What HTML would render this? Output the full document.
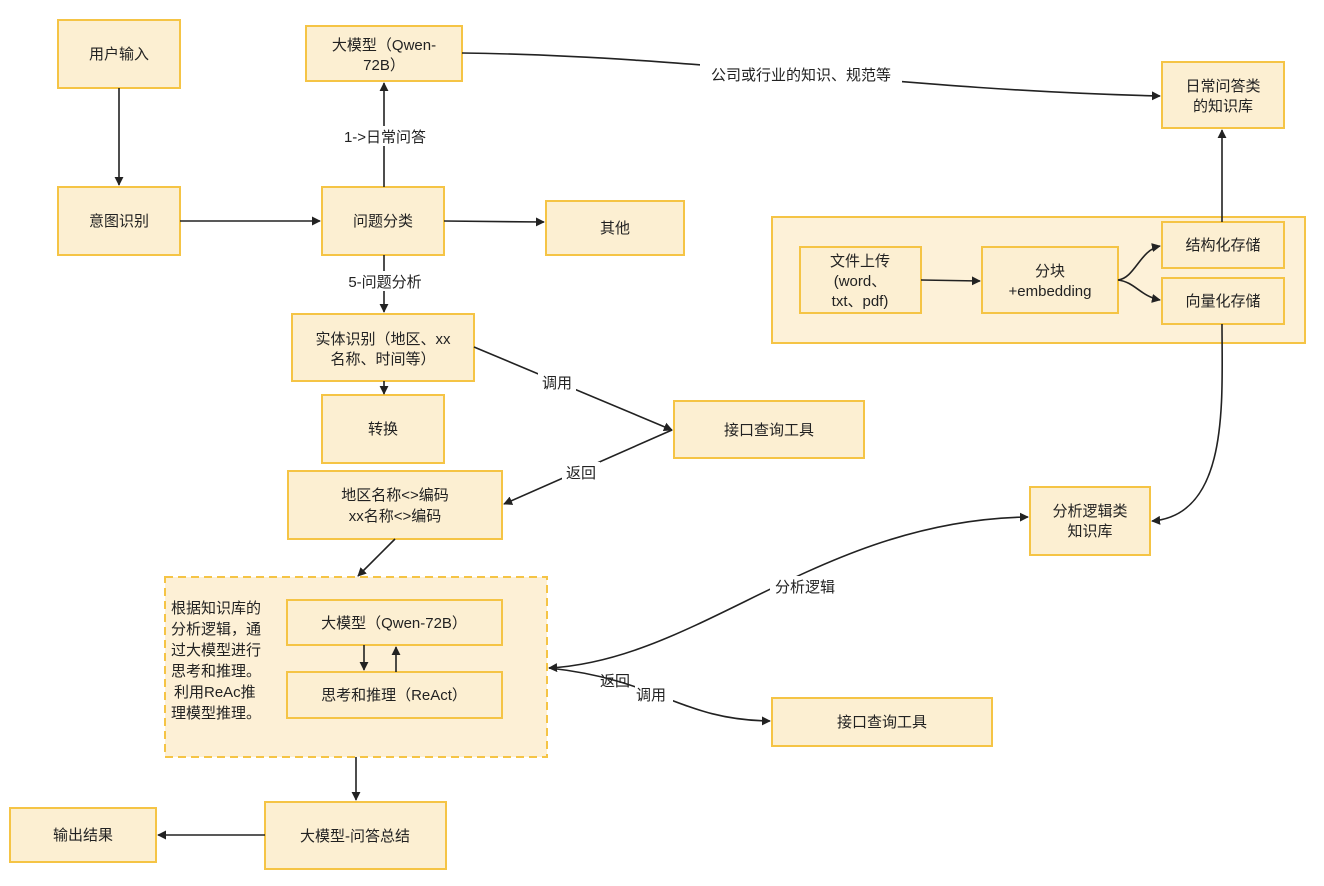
<!DOCTYPE html>
<html><head><meta charset="utf-8"><style>
html,body{margin:0;padding:0;background:#fff}
svg text{font-family:"Liberation Sans","Noto Sans CJK SC",sans-serif;font-size:15px;fill:#222}
.b{fill:#fcefd2;stroke:#f5c445;stroke-width:2}
.l{fill:none;stroke:#222;stroke-width:1.6}
.lbl{fill:#fff;stroke:none}
</style></head><body>
<svg width="1324" height="881" viewBox="0 0 1324 881" xmlns="http://www.w3.org/2000/svg">
<defs><marker id="a" viewBox="0 0 10 10" refX="9" refY="5" markerWidth="9" markerHeight="9" orient="auto-start-reverse" markerUnits="userSpaceOnUse"><path d="M0,0 L10,5 L0,10 z" fill="#222"/></marker></defs>

<!-- containers -->
<rect class="b" x="772" y="217" width="533" height="126" style="fill:#fdf1d8"/>
<rect x="165" y="577" width="382" height="180" style="fill:#fdf0d6;stroke:#f5c445;stroke-width:2;stroke-dasharray:8 5"/>

<!-- boxes -->
<rect class="b" x="58" y="20" width="122" height="68"/>
<text x="119" y="59" text-anchor="middle">用户输入</text>
<rect class="b" x="58" y="187" width="122" height="68"/>
<text x="119" y="226" text-anchor="middle">意图识别</text>
<rect class="b" x="306" y="26" width="156" height="55"/>
<text x="384" y="50" text-anchor="middle">大模型（Qwen-</text>
<text x="384" y="70" text-anchor="middle">72B）</text>
<rect class="b" x="322" y="187" width="122" height="68"/>
<text x="383" y="226" text-anchor="middle">问题分类</text>
<rect class="b" x="546" y="201" width="138" height="54"/>
<text x="615" y="233" text-anchor="middle">其他</text>
<rect class="b" x="292" y="314" width="182" height="67"/>
<text x="383" y="344" text-anchor="middle">实体识别（地区、xx</text>
<text x="383" y="364" text-anchor="middle">名称、时间等）</text>
<rect class="b" x="322" y="395" width="122" height="68"/>
<text x="383" y="434" text-anchor="middle">转换</text>
<rect class="b" x="674" y="401" width="190" height="57"/>
<text x="769" y="435" text-anchor="middle">接口查询工具</text>
<rect class="b" x="288" y="471" width="214" height="68"/>
<text x="395" y="500" text-anchor="middle">地区名称&lt;&gt;编码</text>
<text x="395" y="521" text-anchor="middle">xx名称&lt;&gt;编码</text>
<rect class="b" x="287" y="600" width="215" height="45"/>
<text x="394" y="628" text-anchor="middle">大模型（Qwen-72B）</text>
<rect class="b" x="287" y="672" width="215" height="46"/>
<text x="394" y="700" text-anchor="middle">思考和推理（ReAct）</text>
<text x="171" y="613">根据知识库的</text>
<text x="171" y="634">分析逻辑，通</text>
<text x="171" y="655">过大模型进行</text>
<text x="171" y="676">思考和推理。</text>
<text x="174" y="697">利用ReAc推</text>
<text x="171" y="718">理模型推理。</text>
<rect class="b" x="265" y="802" width="181" height="67"/>
<text x="355" y="841" text-anchor="middle">大模型-问答总结</text>
<rect class="b" x="10" y="808" width="146" height="54"/>
<text x="83" y="840" text-anchor="middle">输出结果</text>
<rect class="b" x="772" y="698" width="220" height="48"/>
<text x="882" y="727" text-anchor="middle">接口查询工具</text>
<rect class="b" x="1030" y="487" width="120" height="68"/>
<text x="1090" y="516" text-anchor="middle">分析逻辑类</text>
<text x="1090" y="536" text-anchor="middle">知识库</text>
<rect class="b" x="1162" y="62" width="122" height="66"/>
<text x="1223" y="91" text-anchor="middle">日常问答类</text>
<text x="1223" y="111" text-anchor="middle">的知识库</text>
<rect class="b" x="800" y="247" width="121" height="66"/>
<text x="860" y="266" text-anchor="middle">文件上传</text>
<text x="860" y="286" text-anchor="middle">(word、</text>
<text x="860" y="306" text-anchor="middle">txt、pdf)</text>
<rect class="b" x="982" y="247" width="136" height="66"/>
<text x="1050" y="276" text-anchor="middle">分块</text>
<text x="1050" y="296" text-anchor="middle">+embedding</text>
<rect class="b" x="1162" y="222" width="122" height="46"/>
<text x="1223" y="250" text-anchor="middle">结构化存储</text>
<rect class="b" x="1162" y="278" width="122" height="46"/>
<text x="1223" y="306" text-anchor="middle">向量化存储</text>

<!-- edges -->
<line class="l" x1="119" y1="88" x2="119" y2="185" marker-end="url(#a)"/>
<line class="l" x1="180" y1="221" x2="320" y2="221" marker-end="url(#a)"/>
<line class="l" x1="444" y1="221" x2="544" y2="222" marker-end="url(#a)"/>
<line class="l" x1="384" y1="187" x2="384" y2="83" marker-end="url(#a)"/>
<rect class="lbl" x="336" y="126" width="98" height="20"/>
<text x="385" y="142" text-anchor="middle">1-&gt;日常问答</text>
<line class="l" x1="384" y1="255" x2="384" y2="312" marker-end="url(#a)"/>
<rect class="lbl" x="340" y="271" width="90" height="20"/>
<text x="385" y="287" text-anchor="middle">5-问题分析</text>
<line class="l" x1="384" y1="381" x2="384" y2="394" marker-end="url(#a)"/>
<line class="l" x1="474" y1="347" x2="672" y2="430" marker-end="url(#a)"/>
<rect class="lbl" x="538" y="372" width="38" height="20"/>
<text x="557" y="388" text-anchor="middle">调用</text>
<line class="l" x1="672" y1="430" x2="504" y2="504" marker-end="url(#a)"/>
<rect class="lbl" x="562" y="462" width="38" height="20"/>
<text x="581" y="478" text-anchor="middle">返回</text>
<line class="l" x1="395" y1="539" x2="358" y2="576" marker-end="url(#a)"/>
<line class="l" x1="364" y1="645" x2="364" y2="670" marker-end="url(#a)"/>
<line class="l" x1="396" y1="672" x2="396" y2="647" marker-end="url(#a)"/>
<line class="l" x1="356" y1="757" x2="356" y2="800" marker-end="url(#a)"/>
<line class="l" x1="265" y1="835" x2="158" y2="835" marker-end="url(#a)"/>
<path class="l" d="M462,53 C700,56 900,90 1160,96" marker-end="url(#a)"/>
<rect class="lbl" x="700" y="64" width="202" height="22"/>
<text x="801" y="80" text-anchor="middle">公司或行业的知识、规范等</text>
<line class="l" x1="1222" y1="222" x2="1222" y2="130" marker-end="url(#a)"/>
<line class="l" x1="921" y1="280" x2="980" y2="281" marker-end="url(#a)"/>
<path class="l" d="M1118,280 C1135,278 1140,250 1160,246" marker-end="url(#a)"/>
<path class="l" d="M1118,280 C1135,282 1140,296 1160,300" marker-end="url(#a)"/>
<path class="l" d="M1222,324 C1222,400 1230,515 1152,521" marker-end="url(#a)"/>
<path class="l" d="M549,668 C700,660 820,520 1028,517" marker-end="url(#a)" marker-start="url(#a)"/>
<rect class="lbl" x="770" y="576" width="70" height="20"/>
<text x="805" y="592" text-anchor="middle">分析逻辑</text>
<path class="l" d="M549,668 C660,680 680,720 770,721" marker-end="url(#a)"/>
<text x="600" y="686">返回</text>
<rect class="lbl" x="635" y="684" width="38" height="20"/>
<text x="636" y="700">调用</text>
</svg>
</body></html>
